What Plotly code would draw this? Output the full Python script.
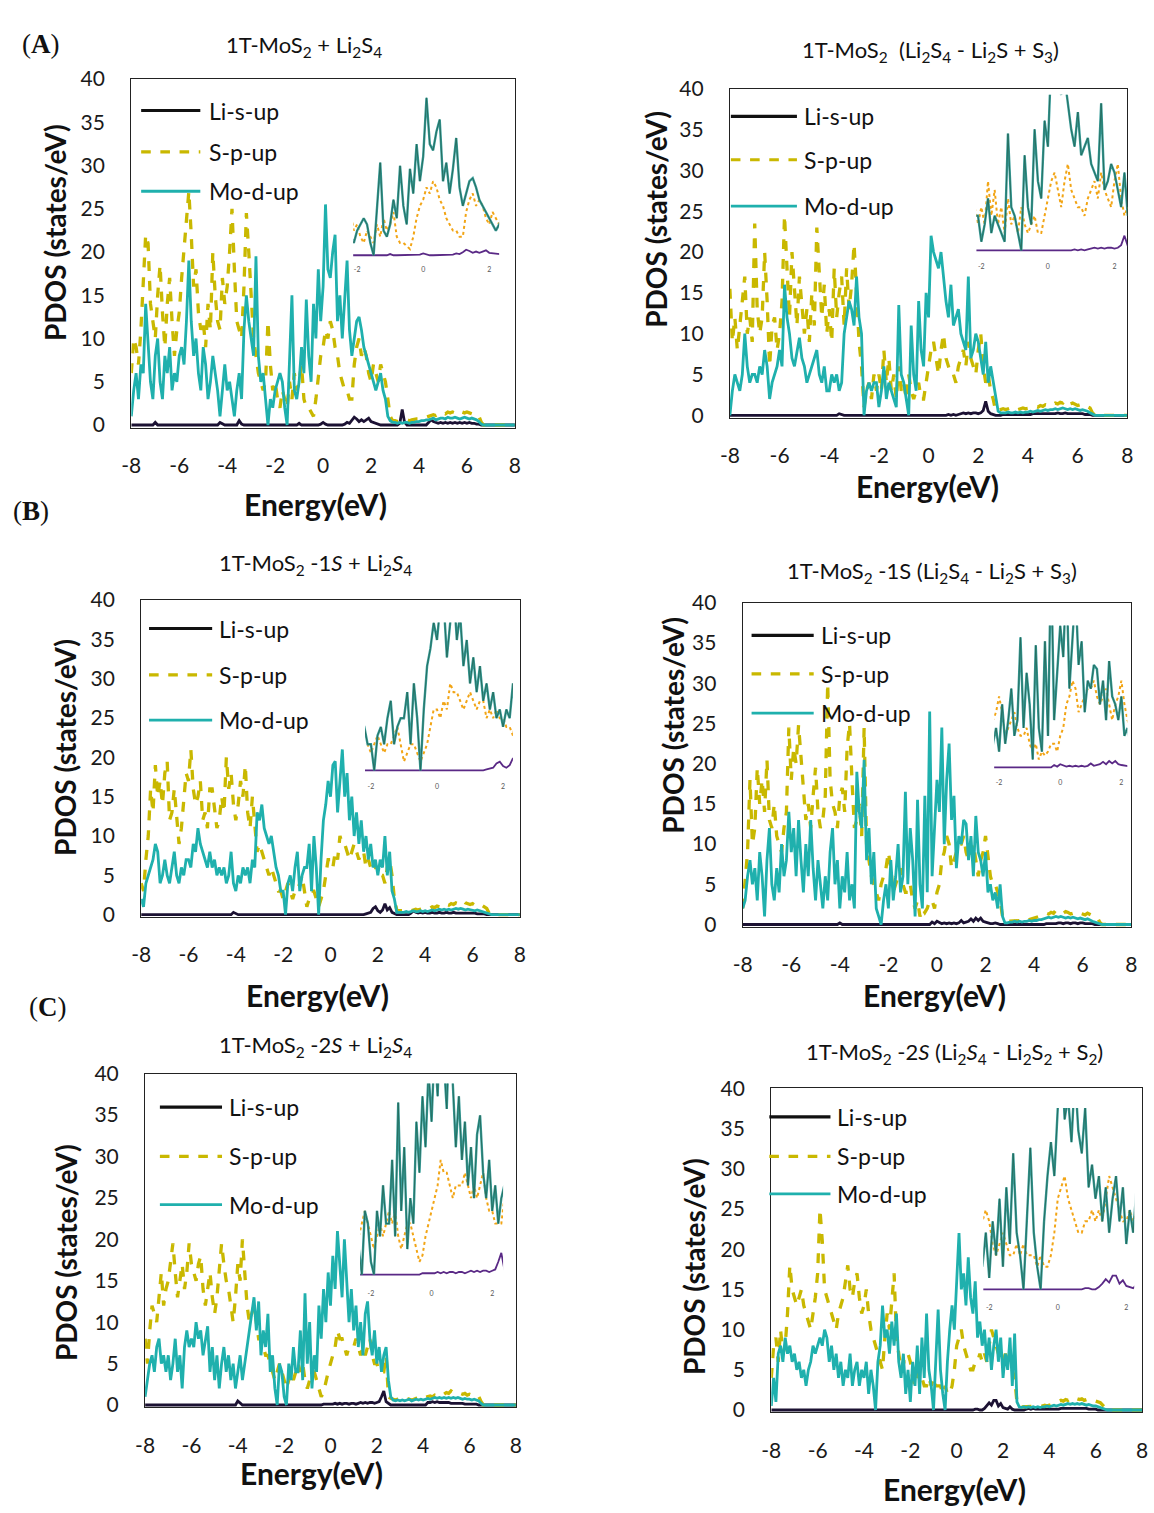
import plotly.graph_objects as go

W, H = 1154, 1513

# ---------------- data (PDOS, states/eV) on a 0.1 eV energy grid -8 .. 8 ----------------
energy = [round(-8 + 0.1 * i, 1) for i in range(161)]
x_ticks = [-8, -6, -4, -2, 0, 2, 4, 6, 8]
x_tick_labels = ["-8", "-6", "-4", "-2", "0", "2", "4", "6", "8"]
y_ticks = [0, 5, 10, 15, 20, 25, 30, 35, 40]
y_tick_labels = ["0", "5", "10", "15", "20", "25", "30", "35", "40"]
inset_ticks = [-2, 0, 2]
inset_tick_labels = ["-2", "0", "2"]
series_names = ["Li-s-up", "S-p-up", "Mo-d-up"]

# ---- (A) 1T-MoS2 + Li2S4 ----
a1_li = [
    0, 0, 0, 0, 0, 0, 0, 0, 0, 0,
    0.3, 0, 0, 0, 0, 0, 0, 0, 0, 0,
    0, 0, 0, 0, 0, 0, 0, 0, 0, 0,
    0, 0, 0, 0, 0, 0, 0, 0.3, 0.1, 0,
    0, 0, 0, 0, 0, 0.5, 0.1, 0, 0, 0,
    0, 0, 0, 0, 0, 0, 0, 0, 0, 0,
    0, 0, 0, 0, 0, 0, 0, 0, 0, 0,
    0.2, 0, 0, 0, 0, 0, 0, 0, 0, 0.1,
    0.3, 0.1, 0, 0, 0, 0, 0, 0, 0, 0.1,
    0.3, 0.2, 0.5, 0.9, 0.7, 0.4, 0.6, 0.4, 0.6, 0.8,
    0.4, 0.3, 0.2, 0.1, 0, 0, 0, 0, 0, 0,
    0, 0, 0.2, 1.8, 0.3, 0, 0, 0, 0, 0,
    0, 0, 0, 0, 0.3, 0.6, 0.4, 0.3, 0.2, 0.3,
    0.2, 0.3, 0.2, 0.3, 0.2, 0.3, 0.2, 0.3, 0.2, 0.3,
    0.2, 0.3, 0.2, 0.2, 0.1, 0.1, 0, 0, 0, 0,
    0, 0, 0, 0, 0, 0, 0, 0, 0, 0,
    0,
]
a1_sp = [
    6, 10, 9, 7, 11, 16, 22, 21, 14, 12,
    10, 15, 18.5, 13, 9, 14, 17, 12, 8, 11,
    13, 17, 20, 24, 27, 22, 16, 18, 13, 11,
    12, 9, 14, 11, 20, 15, 12, 11, 17, 14,
    16, 20, 25, 18, 12, 11, 10, 16, 24.5, 20,
    14, 10, 8, 6, 5, 4, 5, 12, 7, 4,
    5, 3, 2, 4, 3, 2, 5, 3, 6, 4,
    5, 7, 3, 2, 2, 1.5, 1, 3, 6, 8,
    9, 11, 10, 12, 11, 9, 8, 6, 5, 4,
    4, 3, 3, 7, 9, 10, 8, 9, 8, 6,
    5, 7, 6, 5, 7, 6, 5, 3, 1, 0.5,
    0.5, 0.4, 0.5, 0.5, 0.6, 0.6, 0.5, 0.6, 0.7, 0.7,
    0.7, 0.8, 0.8, 0.9, 1.0, 1.1, 1.2, 1.1, 1.3, 1.2,
    1.4, 1.3, 1.5, 1.4, 1.5, 1.4, 1.5, 1.3, 1.5, 1.4,
    1.5, 1.4, 1.3, 1.4, 1.2, 1.0, 0.3, 0, 0, 0,
    0, 0, 0, 0, 0, 0, 0, 0, 0, 0,
    0,
]
a1_mo = [
    1, 4, 6, 3, 7, 6, 14, 9, 5, 3,
    8, 10, 5, 3, 8, 6, 9, 4, 6, 5,
    8, 9, 7, 12, 19, 12, 8, 10, 6, 4,
    9, 7, 3, 5, 8, 6, 4, 1, 4, 7,
    4, 5, 3, 1, 4, 6, 3, 11, 15, 12,
    10, 8, 19.5, 8, 5, 6, 3, 0, 3, 2,
    4, 5, 6, 5, 2, 0, 8, 15, 4, 3,
    5, 9, 6, 14.5, 8, 5, 14, 10, 18, 12,
    16, 25.5, 18, 17, 20, 22, 12, 15, 10, 14,
    19, 11, 8, 10, 12, 12.5, 11, 9, 8, 7,
    6, 5, 4, 5, 6, 4, 3, 1, 0.5, 0.3,
    0.3, 0.2, 0.3, 0.2, 0.3, 0.3, 0.2, 0.3, 0.3, 0.4,
    0.4, 0.5, 0.5, 0.6, 0.6, 0.7, 0.8, 0.6, 0.7, 0.8,
    0.8, 0.7, 0.9, 0.8, 0.8, 0.9, 0.8, 0.7, 0.8, 0.9,
    0.8, 0.7, 0.8, 0.7, 0.6, 0.4, 0.1, 0, 0, 0,
    0, 0, 0, 0, 0, 0, 0, 0, 0, 0,
    0,
]

# ---- 1T-MoS2 (Li2S4 - Li2S + S3) ----
a2_li = [
    0, 0, 0, 0, 0, 0, 0, 0, 0, 0,
    0, 0, 0, 0, 0, 0, 0, 0, 0, 0,
    0, 0, 0, 0, 0, 0, 0, 0, 0, 0,
    0, 0, 0, 0, 0, 0, 0, 0, 0, 0,
    0, 0, 0, 0, 0.2, 0.1, 0, 0, 0, 0,
    0, 0, 0, 0, 0, 0, 0, 0, 0, 0,
    0, 0, 0, 0, 0, 0, 0, 0, 0, 0,
    0, 0, 0, 0, 0, 0, 0, 0, 0, 0,
    0, 0, 0, 0, 0, 0, 0, 0, 0.1, 0,
    0.1, 0, 0.1, 0.2, 0.3, 0.2, 0.3, 0.2, 0.3, 0.3,
    0.2, 0.3, 0.6, 1.7, 0.5, 0.2, 0.1, 0, 0, 0,
    0.1, 0.1, 0.1, 0.1, 0.1, 0.1, 0.1, 0.1, 0.1, 0.1,
    0.1, 0.1, 0.2, 0.2, 0.2, 0.2, 0.2, 0.2, 0.2, 0.2,
    0.2, 0.2, 0.3, 0.2, 0.2, 0.3, 0.2, 0.2, 0.2, 0.2,
    0.2, 0.2, 0.2, 0.1, 0.1, 0.1, 0, 0, 0, 0,
    0, 0, 0, 0, 0, 0, 0, 0, 0, 0,
    0,
]
a2_sp = [
    15.5, 9, 12, 8, 11, 14, 17, 10, 12, 9,
    23.5, 13, 10, 12, 20, 14, 6, 11, 12, 8,
    10, 14, 24.5, 18, 12, 20, 15, 11, 17, 14,
    10, 13, 9, 15, 11, 23, 18, 12, 16, 10,
    13, 9, 18, 12, 15, 17, 11, 18, 13, 16,
    21, 14, 9, 6, 1, 3, 4, 2, 5, 3,
    5, 3, 8, 4, 7, 3, 5, 2, 6, 3,
    4, 2, 5, 3, 2, 3, 4, 2, 2, 4,
    6, 8, 9, 7, 5, 8, 10, 7, 6, 5,
    5, 4, 6, 7, 8, 6, 9, 7, 6, 5,
    8, 10, 6, 4, 5, 3, 2, 0.5, 0.6, 0.7,
    0.8, 0.7, 0.8, 0.9, 0.7, 0.8, 0.7, 0.8, 0.9, 0.8,
    0.8, 0.9, 1.0, 1.1, 1.0, 1.2, 1.1, 1.3, 1.2, 1.4,
    1.3, 1.5, 1.4, 1.6, 1.5, 1.9, 1.6, 1.4, 1.5, 1.3,
    1.2, 1.3, 1.1, 1.2, 1.0, 0.9, 0.3, 0, 0, 0,
    0, 0, 0, 0, 0, 0, 0, 0, 0, 0,
    0,
]
a2_mo = [
    0, 3, 5, 4, 3, 5, 10, 6, 4, 5,
    5, 4, 6, 5, 8, 6, 2, 4, 5, 6,
    8, 6, 16, 12, 10, 7, 6, 8, 9.5, 7,
    6, 4, 5, 6, 7, 8, 5, 4, 6, 3,
    3, 5, 4, 5, 3, 4, 10, 12, 14, 13,
    11, 17, 12, 10, 0, 3, 4, 3, 4, 4,
    1, 3, 6, 2, 4, 3, 2, 1, 13.5, 5,
    4, 2, 0, 11, 5, 3, 14, 8, 6, 15,
    12, 22, 20, 19, 18, 20, 17, 14, 12, 16,
    11, 12, 13, 10, 9, 8, 17, 7, 8, 10,
    9, 7, 5, 9, 4, 6, 4, 2, 0.5, 0.3,
    0.3, 0.3, 0.4, 0.3, 0.3, 0.4, 0.3, 0.4, 0.3, 0.4,
    0.4, 0.5, 0.4, 0.5, 0.6, 0.5, 0.6, 0.7, 0.6, 0.7,
    0.7, 0.8, 0.7, 0.8, 0.9, 0.8, 0.7, 0.8, 0.7, 0.8,
    0.7, 0.6, 0.7, 0.6, 0.5, 0.3, 0.1, 0, 0, 0,
    0, 0, 0, 0, 0, 0, 0, 0, 0, 0,
    0,
]

# ---- (B) 1T-MoS2-1S + Li2S4 ----
b1_li = [
    0, 0, 0, 0, 0, 0, 0, 0, 0, 0,
    0, 0, 0, 0, 0, 0, 0, 0, 0, 0,
    0, 0, 0, 0, 0, 0, 0, 0, 0, 0,
    0, 0, 0, 0, 0, 0, 0, 0, 0, 0.3,
    0.1, 0, 0, 0, 0, 0, 0, 0, 0, 0,
    0, 0, 0, 0, 0, 0, 0, 0, 0, 0,
    0, 0, 0, 0, 0, 0, 0, 0, 0, 0,
    0, 0, 0, 0, 0, 0, 0, 0, 0, 0,
    0, 0, 0, 0, 0, 0, 0, 0, 0, 0,
    0, 0, 0, 0, 0, 0.1, 0.2, 0.3, 0.8, 1.0,
    0.5, 0.3, 0.6, 1.4, 0.6, 0.9, 0.3, 0.1, 0, 0,
    0, 0, 0, 0, 0.2, 0.5, 0.3, 0.2, 0.3, 0.2,
    0.3, 0.2, 0.2, 0.3, 0.2, 0.2, 0.3, 0.2, 0.2, 0.3,
    0.2, 0.2, 0.3, 0.2, 0.2, 0.2, 0.2, 0.2, 0.2, 0.2,
    0.2, 0.2, 0.1, 0.1, 0.1, 0.1, 0, 0, 0, 0,
    0, 0, 0, 0, 0, 0, 0, 0, 0, 0,
    0,
]
b1_sp = [
    4, 3, 7, 10, 16, 13, 19, 15, 17, 14,
    18, 19.5, 12, 13, 16, 12, 9, 11, 14, 18,
    17, 21, 16, 14, 15, 17, 12, 13, 11, 16,
    16, 13, 11, 12, 15, 13, 20, 16, 18, 14,
    12, 14, 17, 15, 19, 13, 11, 15, 12, 8,
    9, 8, 7, 6, 5, 6, 5, 4, 3, 3,
    2, 3, 4, 3, 2, 3, 3, 4, 5, 3,
    1, 2, 3, 3, 2, 1, 2, 3, 5, 7,
    7, 6, 8, 7, 10, 9, 9, 8, 7, 8,
    9, 8, 7, 8, 8, 6, 7, 6, 7, 6,
    6, 5, 5, 4, 6, 7, 5, 2, 0.6, 0.5,
    0.5, 0.4, 0.5, 0.6, 0.5, 0.6, 0.7, 0.6, 0.7, 0.8,
    0.8, 0.9, 0.8, 1.0, 0.9, 1.1, 1.0, 1.2, 1.1, 1.3,
    1.2, 1.4, 1.3, 1.5, 1.4, 1.6, 1.8, 1.5, 1.4, 1.3,
    1.4, 1.2, 1.3, 1.1, 1.2, 1.0, 0.8, 0.2, 0, 0,
    0, 0, 0, 0, 0, 0, 0, 0, 0, 0,
    0,
]
b1_mo = [
    2, 1, 4, 5, 6, 7, 9, 8, 4, 5,
    7, 5, 4, 6, 8, 5, 4, 6, 5, 7,
    7, 6, 9, 8, 11, 9, 8, 7, 6, 8,
    6, 7, 5, 6, 5, 6, 4, 5, 8, 4,
    3, 5, 4, 6, 5, 6, 4, 7, 6, 13,
    12, 14, 11, 10, 9, 10, 8, 6, 5, 3,
    3, 0, 4, 5, 3, 6, 8, 3, 5, 6,
    6, 9, 3, 10, 6, 0, 7, 12, 14, 17,
    15, 19, 19.5, 13, 17, 21, 15, 18, 12, 15,
    10, 13, 9, 12, 8, 10, 7, 9, 6, 7,
    5, 7, 6, 10, 5, 8, 3, 2, 0.3, 0.3,
    0.3, 0.3, 0.4, 0.3, 0.4, 0.5, 0.4, 0.4, 0.5, 0.4,
    0.5, 0.4, 0.5, 0.6, 0.5, 0.6, 0.7, 0.6, 0.7, 0.6,
    0.7, 0.6, 0.7, 0.8, 0.7, 0.8, 0.7, 0.6, 0.7, 0.6,
    0.6, 0.5, 0.6, 0.5, 0.4, 0.3, 0.2, 0.1, 0, 0,
    0, 0, 0, 0, 0, 0, 0, 0, 0, 0,
    0,
]

# ---- 1T-MoS2-1S (Li2S4 - Li2S + S3) ----
b2_li = [
    0, 0, 0, 0, 0, 0, 0, 0, 0, 0,
    0, 0, 0, 0, 0, 0, 0, 0, 0, 0,
    0, 0, 0, 0, 0, 0, 0, 0, 0, 0,
    0, 0, 0, 0, 0, 0, 0, 0, 0, 0,
    0.2, 0, 0, 0, 0, 0, 0, 0, 0, 0,
    0, 0, 0, 0, 0, 0, 0, 0, 0, 0,
    0, 0, 0, 0, 0, 0, 0, 0, 0, 0,
    0, 0, 0, 0, 0, 0, 0, 0, 0.3, 0.1,
    0.4, 0.2, 0.1, 0.2, 0.1, 0.2, 0.1, 0.2, 0.1, 0.2,
    0.5, 0.2, 0.3, 0.4, 0.7, 0.4, 0.8, 0.5, 0.8, 0.4,
    0.3, 0.2, 0.1, 0.1, 0.2, 0.1, 0, 0, 0, 0,
    0, 0, 0, 0, 0, 0, 0, 0, 0, 0,
    0, 0, 0, 0, 0, 0.1, 0.1, 0.1, 0.1, 0.1,
    0.2, 0.2, 0.1, 0.2, 0.2, 0.1, 0.2, 0.2, 0.1, 0.2,
    0.2, 0.1, 0.1, 0.1, 0.1, 0, 0, 0, 0, 0,
    0, 0, 0, 0, 0, 0, 0, 0, 0, 0,
    0,
]
b2_sp = [
    2, 5, 9, 18, 10, 12, 19.5, 15, 18, 14,
    20.5, 13, 12, 15, 11, 10, 9, 12, 14, 24.5,
    18, 22, 20, 24.8, 21, 17, 13, 15, 12, 16,
    19.5, 14, 12, 13, 16, 30, 18, 15, 14, 12,
    16, 17, 14, 22, 25, 18, 12, 13, 15, 11,
    24.5, 10, 8, 6, 5, 4, 3, 5, 6, 7,
    9, 7, 4, 5, 6, 7, 5, 4, 4, 5,
    3, 2, 3, 1, 2, 1.5, 2, 3, 3, 2,
    4, 5, 8, 9, 11, 10, 7, 8, 9, 10,
    10, 11, 9, 8, 9, 10, 8, 6, 8, 9,
    11, 8, 6, 5, 5, 4, 3, 1, 0.5, 0.4,
    0.4, 0.5, 0.4, 0.5, 0.4, 0.5, 0.6, 0.5, 0.6, 0.7,
    0.7, 0.8, 0.9, 1.0, 1.2, 1.4, 1.3, 1.5, 1.4, 1.8,
    1.6, 1.5, 1.4, 1.6, 1.5, 1.3, 1.4, 1.6, 1.5, 1.4,
    1.3, 1.2, 1.4, 1.2, 1.1, 1.0, 0.9, 0.3, 0, 0,
    0, 0, 0, 0, 0, 0, 0, 0, 0, 0,
    0,
]
b2_mo = [
    2, 3, 6, 8, 5, 7, 3, 9, 6, 1,
    8, 12, 5, 3, 7, 4, 10, 6, 8, 14,
    9, 12, 6, 13, 8, 4, 10, 6, 13, 7,
    3, 8, 5, 2, 6, 3, 9, 12, 5, 8,
    2, 6, 4, 9, 3, 5, 2, 19, 14, 12,
    20.5, 8, 12, 5, 9, 2, 1, 0, 3, 5,
    2, 8, 3, 6, 10, 4, 6, 16.5, 5, 12,
    8, 1, 15.5, 5, 2, 16, 4, 26.5, 6, 12,
    18, 14, 24.5, 10, 18, 22.5, 13, 16, 7, 11,
    10, 13, 12.5, 8, 11, 6, 13.5, 9, 8, 6,
    9, 4, 5, 3, 4, 2, 5, 1, 0.2, 0.2,
    0.3, 0.3, 0.4, 0.3, 0.4, 0.3, 0.4, 0.4, 0.5, 0.4,
    0.5, 0.5, 0.6, 0.6, 0.7, 0.8, 0.9, 0.8, 0.9, 1.0,
    0.9, 1.0, 0.9, 0.8, 0.9, 0.8, 0.9, 0.8, 0.7, 0.8,
    0.7, 0.6, 0.7, 0.5, 0.4, 0.3, 0.2, 0.1, 0, 0,
    0, 0, 0, 0, 0, 0, 0, 0, 0, 0,
    0,
]

# ---- (C) 1T-MoS2-2S + Li2S4 ----
c1_li = [
    0, 0, 0, 0, 0, 0, 0, 0, 0, 0,
    0, 0, 0, 0, 0, 0, 0, 0, 0, 0,
    0, 0, 0, 0, 0, 0, 0, 0, 0, 0,
    0, 0, 0, 0, 0, 0, 0, 0, 0, 0,
    0.5, 0.2, 0, 0, 0, 0, 0, 0, 0, 0,
    0, 0, 0, 0, 0, 0, 0, 0, 0, 0,
    0, 0, 0, 0, 0, 0, 0, 0, 0, 0,
    0, 0, 0, 0, 0, 0, 0, 0.1, 0.1, 0.1,
    0.1, 0.1, 0.2, 0.1, 0.2, 0.1, 0.2, 0.2, 0.1, 0.2,
    0.2, 0.1, 0.2, 0.3, 0.2, 0.3, 0.2, 0.3, 0.3, 0.2,
    0.3, 0.4, 1.0, 1.7, 0.4, 0.2, 0, 0, 0, 0,
    0, 0, 0, 0, 0, 0, 0, 0, 0, 0,
    0, 0, 0.3, 0.3, 0.4, 0.3, 0.4, 0.3, 0.3, 0.3,
    0.3, 0.3, 0.2, 0.2, 0.2, 0.2, 0.2, 0.2, 0.1, 0.1,
    0.1, 0.1, 0.1, 0.1, 0, 0, 0, 0, 0, 0,
    0, 0, 0, 0, 0, 0, 0, 0, 0, 0,
    0,
]
c1_sp = [
    8, 5, 9, 12, 11, 10, 13, 16, 12, 14,
    15, 17, 19.5, 16, 13, 15, 17, 14, 16, 19.5,
    17, 16, 15, 17, 18, 14, 12, 14, 16, 13,
    11, 13, 16, 19.5, 17, 15, 14, 12, 10, 13,
    17, 15, 20, 16, 12, 10, 11, 12, 10, 8,
    8, 7, 6, 6, 5, 4, 3, 4, 5, 4,
    3, 2, 3, 4, 3, 4, 5, 4, 5, 3,
    2, 3, 4, 4, 3, 2, 1, 1.5, 3, 4,
    5, 6, 7, 9, 8, 8, 7, 6, 7, 7,
    7, 8, 7, 6, 7, 6, 7, 8, 6, 5,
    5, 4, 4, 4, 6, 1, 0.8, 0.7, 0.6, 0.7,
    0.7, 0.6, 0.7, 0.8, 0.7, 0.6, 0.7, 0.8, 0.7, 0.8,
    0.8, 0.9, 1.0, 1.1, 1.0, 1.2, 1.1, 1.3, 1.4, 1.3,
    1.5, 1.4, 1.7, 1.5, 1.4, 1.5, 1.4, 1.3, 1.4, 1.2,
    1.3, 1.2, 1.1, 1.2, 1.0, 0.4, 0, 0, 0, 0,
    0, 0, 0, 0, 0, 0, 0, 0, 0, 0,
    0,
]
c1_mo = [
    1, 3, 5, 6, 4, 7, 8, 5, 6, 4,
    6, 3, 5, 8, 4, 6, 2, 7, 9, 7,
    8, 7, 10, 8, 9, 6, 8, 9.5, 4, 7,
    3, 6, 2, 5, 7, 4, 6, 3, 5, 2,
    4, 6, 3, 5, 7, 9, 11, 13, 9, 12.5,
    6, 9, 7, 11, 4, 6, 2, 0, 5, 4,
    1, 0, 5, 3, 7, 4, 4, 9, 3, 13.5,
    5, 10, 2, 6, 4, 12, 8, 14, 10, 16,
    12, 18, 14, 21, 17, 13, 20, 15, 10, 14,
    9, 12, 7, 10, 6, 11, 12.5, 8, 6, 9,
    5, 7, 4, 6, 7, 3, 1, 0.6, 0.5, 0.6,
    0.5, 0.6, 0.5, 0.6, 0.7, 0.5, 0.6, 0.7, 0.6, 0.7,
    0.6, 0.7, 0.8, 0.7, 0.8, 0.9, 0.8, 0.9, 0.8, 0.9,
    0.8, 0.9, 0.8, 0.9, 0.8, 0.9, 0.8, 0.7, 0.8, 0.7,
    0.7, 0.6, 0.7, 0.6, 0.5, 0.2, 0, 0, 0, 0,
    0, 0, 0, 0, 0, 0, 0, 0, 0, 0,
    0,
]

# ---- 1T-MoS2-2S (Li2S4 - Li2S2 + S2) ----
c2_li = [
    0, 0, 0, 0, 0, 0, 0, 0, 0, 0,
    0, 0, 0, 0, 0, 0, 0, 0, 0, 0,
    0, 0, 0, 0, 0, 0, 0, 0, 0, 0,
    0, 0, 0, 0, 0, 0, 0, 0, 0, 0,
    0, 0, 0, 0, 0, 0, 0, 0, 0, 0,
    0, 0, 0, 0, 0, 0, 0, 0, 0, 0,
    0, 0, 0, 0, 0, 0, 0, 0, 0, 0,
    0, 0, 0, 0, 0, 0, 0, 0, 0, 0,
    0, 0, 0, 0, 0, 0, 0, 0, 0.1, 0.1,
    0, 0, 0.2, 0.5, 0.9, 0.6, 1.2, 1.2, 0.5, 0.8,
    0.3, 0.2, 0.1, 0.4, 0.1, 0, 0, 0, 0, 0,
    0.1, 0.2, 0.1, 0.2, 0.1, 0.1, 0.1, 0.1, 0.1, 0.1,
    0.1, 0.1, 0.1, 0.1, 0.1, 0.2, 0.2, 0.2, 0.2, 0.2,
    0.2, 0.2, 0.2, 0.2, 0.2, 0.2, 0.2, 0.1, 0.1, 0.1,
    0.1, 0, 0, 0, 0, 0, 0, 0, 0, 0,
    0, 0, 0, 0, 0, 0, 0, 0, 0, 0,
    0,
]
c2_sp = [
    4, 8, 9, 6, 10, 7, 8, 12, 18, 15,
    14, 13, 14, 15, 13, 12, 11, 10, 12, 14,
    17, 25, 21, 15, 14, 13, 12, 11, 10, 12,
    13, 14, 16, 18, 15, 14, 16, 17, 14, 12,
    13, 15, 12, 10, 9, 8, 7, 6, 5, 9,
    12, 10, 14, 17, 9, 7, 5, 6, 6, 7,
    6, 4, 3, 4, 5, 4, 3, 3, 4, 3,
    4, 3, 3, 3, 2, 3, 2, 2, 3, 5,
    8, 9, 10, 8, 7, 6, 5, 5, 6, 6,
    7, 6, 7, 6, 8, 10, 9, 8, 7, 6,
    6, 7, 6, 7, 5, 4, 1, 0.5, 0.4, 0.4,
    0.4, 0.5, 0.4, 0.5, 0.4, 0.5, 0.4, 0.5, 0.6, 0.5,
    0.6, 0.7, 0.9, 1.0, 1.1, 1.2, 1.1, 1.3, 1.2, 1.4,
    1.3, 1.5, 1.4, 1.3, 1.4, 1.2, 1.3, 1.2, 1.1, 1.2,
    1.1, 1.0, 0.9, 0.6, 0.3, 0, 0, 0, 0, 0,
    0, 0, 0, 0, 0, 0, 0, 0, 0, 0,
    0,
]
c2_mo = [
    0.5, 4, 1, 7, 8, 6, 9, 7, 8, 6,
    7, 5, 6, 4, 5, 3, 5, 6, 8, 7,
    8, 9, 8, 10, 9, 6, 8, 5, 7, 4,
    6, 3, 5, 4, 7, 3, 5, 6, 3, 5,
    4, 6, 2, 5, 3, 0, 6, 8, 13, 9,
    10, 7, 11, 8, 12, 6, 4, 7, 2, 5,
    1, 6, 3, 8, 2, 9, 4, 12, 5, 3,
    0, 7, 12.5, 5, 2, 0, 6, 10, 13, 10,
    16, 22, 15, 17, 13, 19, 14, 12, 16, 9,
    11, 8, 10, 6, 9, 5, 8, 10, 6, 9,
    4, 7, 5, 9, 3, 9.5, 1, 0.4, 0.3, 0.4,
    0.3, 0.4, 0.3, 0.4, 0.3, 0.4, 0.3, 0.4, 0.4, 0.5,
    0.4, 0.5, 0.6, 0.5, 0.6, 0.7, 0.6, 0.7, 0.8, 0.7,
    0.8, 0.7, 0.8, 0.7, 0.8, 0.7, 0.6, 0.7, 0.6, 0.5,
    0.5, 0.4, 0.3, 0.2, 0.1, 0, 0, 0, 0, 0,
    0, 0, 0, 0, 0, 0, 0, 0, 0, 0,
    0,
]

for arr in [a1_li, a1_sp, a1_mo, a2_li, a2_sp, a2_mo, b1_li, b1_sp, b1_mo,
            b2_li, b2_sp, b2_mo, c1_li, c1_sp, c1_mo, c2_li, c2_sp, c2_mo]:
    assert len(arr) == len(energy), len(arr)

# ---------------- layout description (pixels of the 1154 x 1513 page) ----------------
S2 = "<sub>2</sub>"
S3 = "<sub>3</sub>"
S4 = "<sub>4</sub>"
panels = [
    dict(data=(a1_li, a1_sp, a1_mo), frame=(123, 512, 66, 420),
         title="1T-MoS" + S2 + " + Li" + S2 + "S" + S4, title_xy=(298, 32),
         ytitle_xy=(45, 222), xtitle_xy=(310, 498),
         legend=(133, 193, 200, (98, 140, 180)),
         inset=(348, 496, 82, 245, 352, 486, 26)),
    dict(data=(a2_li, a2_sp, a2_mo), frame=(730, 1133, 76, 410),
         title="1T-MoS" + S2 + "  (Li" + S2 + "S" + S4 + " - Li" + S2 + "S + S" + S3 + ")",
         title_xy=(933, 38), ytitle_xy=(655, 208), xtitle_xy=(930, 479),
         legend=(731, 798, 803, (104, 148, 195)),
         inset=(980, 1133, 82, 240, 985, 1120, 18)),
    dict(data=(b1_li, b1_sp, b1_mo), frame=(133, 517, 595, 917),
         title="1T-MoS" + S2 + " -1<i>S</i> + Li" + S2 + "<i>S</i>" + S4, title_xy=(310, 558),
         ytitle_xy=(55, 745), xtitle_xy=(312, 996),
         legend=(141, 205, 210, (624, 671, 717)),
         inset=(360, 510, 618, 768, 366, 500, 17)),
    dict(data=(b2_li, b2_sp, b2_mo), frame=(743, 1137, 598, 927),
         title="1T-MoS" + S2 + " -1S (Li" + S2 + "S" + S4 + " - Li" + S2 + "S + S" + S3 + ")",
         title_xy=(935, 567), ytitle_xy=(672, 722), xtitle_xy=(938, 996),
         legend=(752, 815, 820, (631, 670, 710)),
         inset=(998, 1133, 621, 765, 1003, 1127, 18)),
    dict(data=(c1_li, c1_sp, c1_mo), frame=(137, 513, 1076, 1415),
         title="1T-MoS" + S2 + " -2<i>S</i> + Li" + S2 + "<i>S</i>" + S4, title_xy=(310, 1048),
         ytitle_xy=(57, 1258), xtitle_xy=(306, 1482),
         legend=(152, 215, 220, (1110, 1160, 1209)),
         inset=(355, 500, 1086, 1280, 366, 489, 15)),
    dict(data=(c2_li, c2_sp, c2_mo), frame=(772, 1148, 1091, 1420),
         title="1T-MoS" + S2 + " -2<i>S</i> (Li" + S2 + "<i>S</i>" + S4 + " - Li" + S2 + "S" + S2 + " + S" + S2 + ")",
         title_xy=(958, 1055), ytitle_xy=(693, 1272), xtitle_xy=(958, 1498),
         legend=(770, 832, 837, (1120, 1160, 1198)),
         inset=(987, 1140, 1111, 1295, 993, 1132, 16)),
]
panel_letters = [("A", 31, 30), ("B", 21, 505), ("C", 39, 1008)]

main_colors = {"li": "#1c1233", "sp": "#c9b800", "mo": "#1fb0ad"}
inset_colors = {"li": "#5b2a86", "sp": "#f2a516", "mo": "#3a9e9b", "mo_dark": "#1f5e4c"}

SANS = "Lato, Open Sans, sans-serif"
SERIF = "Liberation Serif, DejaVu Serif, serif"
TICK_FONT = dict(family=SANS, size=21, color="#1a1a1a")


def fx(p):
    return p / W


def fy(p):
    return 1 - p / H


fig = go.Figure()
layout = dict(width=W, height=H, margin=dict(l=0, r=0, t=0, b=0),
              paper_bgcolor="white", plot_bgcolor="rgba(0,0,0,0)", showlegend=False)
annotations = []
shapes = []

for k, p in enumerate(panels):
    li, sp, mo = p["data"]
    ia = k + 1          # main axis index
    ib = k + 7          # inset axis index
    xa = "x" if ia == 1 else f"x{ia}"
    ya = "y" if ia == 1 else f"y{ia}"
    l, r, t, b = p["frame"]
    layout["xaxis" if ia == 1 else f"xaxis{ia}"] = dict(
        domain=[fx(l), fx(r)], range=[-8, 8], anchor=ya,
        tickvals=x_ticks, ticktext=x_tick_labels, tickfont=TICK_FONT,
        ticks="outside", ticklen=19, tickcolor="rgba(0,0,0,0)",
        showline=True, mirror=True, linecolor="#222", linewidth=1.2,
        showgrid=False, zeroline=False)
    layout["yaxis" if ia == 1 else f"yaxis{ia}"] = dict(
        domain=[fy(b), fy(t)], range=[-0.3, 40], anchor=xa,
        tickvals=y_ticks, ticktext=y_tick_labels, tickfont=TICK_FONT,
        ticks="outside", ticklen=21, tickcolor="rgba(0,0,0,0)",
        showline=True, mirror=True, linecolor="#222", linewidth=1.2,
        showgrid=False, zeroline=False)

    fig.add_trace(go.Scatter(x=energy, y=li, mode="lines", name=series_names[0],
                             line=dict(color=main_colors["li"], width=2.8), xaxis=xa, yaxis=ya))
    fig.add_trace(go.Scatter(x=energy, y=sp, mode="lines", name=series_names[1],
                             line=dict(color=main_colors["sp"], width=3.3, dash="dash"), xaxis=xa, yaxis=ya))
    fig.add_trace(go.Scatter(x=energy, y=mo, mode="lines", name=series_names[2],
                             line=dict(color=main_colors["mo"], width=2.8), xaxis=xa, yaxis=ya))

    # inset (zoom of the -2 .. 2 eV region)
    il, ir, it, ibase, tm2, tp2, ymax = p["inset"]
    sc = (tp2 - tm2) / 4.0
    xr = [-2 - (tm2 - il) / sc, 2 + (ir - tp2) / sc]
    pad = 0.7
    ibot = ibase + pad * (ibase - it) / ymax
    xb = f"x{ib}"
    yb = f"y{ib}"
    layout[f"xaxis{ib}"] = dict(
        domain=[fx(il), fx(ir)], range=xr, anchor=yb,
        tickvals=inset_ticks, ticktext=inset_tick_labels,
        tickfont=dict(family=SANS, size=7, color="#555"),
        ticks="outside", ticklen=3, tickcolor="rgba(0,0,0,0)",
        showline=False, showgrid=False, zeroline=False)
    layout[f"yaxis{ib}"] = dict(domain=[fy(ibot), fy(it)], range=[-pad, ymax], anchor=xb,
                                visible=False, showgrid=False, zeroline=False)
    fig.add_trace(go.Scatter(x=energy, y=li, mode="lines", name=series_names[0],
                             line=dict(color=inset_colors["li"], width=1.8), xaxis=xb, yaxis=yb))
    fig.add_trace(go.Scatter(x=energy, y=sp, mode="lines", name=series_names[1],
                             line=dict(color=inset_colors["sp"], width=2, dash="dot"), xaxis=xb, yaxis=yb))
    fig.add_trace(go.Scatter(x=energy, y=mo, mode="lines", name=series_names[2],
                             line=dict(color=inset_colors["mo"], width=2.4), xaxis=xb, yaxis=yb))
    fig.add_trace(go.Scatter(x=energy, y=mo, mode="lines", name=series_names[2],
                             line=dict(color=inset_colors["mo_dark"], width=0.9), opacity=0.8,
                             xaxis=xb, yaxis=yb))

    # panel title
    tx, ty = p["title_xy"]
    annotations.append(dict(text=p["title"], x=fx(tx), y=fy(ty), xref="paper", yref="paper",
                            showarrow=False, xanchor="center", yanchor="middle",
                            font=dict(family=SANS, size=22, color="#111")))
    yx, yy = p["ytitle_xy"]
    annotations.append(dict(text="<b>PDOS (states/eV)</b>", x=fx(yx), y=fy(yy), xref="paper", yref="paper",
                            showarrow=False, xanchor="center", yanchor="middle", textangle=-90,
                            font=dict(family=SANS, size=28, color="#111")))
    ex, ey = p["xtitle_xy"]
    annotations.append(dict(text="<b>Energy(eV)</b>", x=fx(ex), y=fy(ey), xref="paper", yref="paper",
                            showarrow=False, xanchor="center", yanchor="middle",
                            font=dict(family=SANS, size=30, color="#111")))

    # legend drawn inside the plot
    lx0, lx1, ltx, lys = p["legend"]
    styles = [dict(color="#111", width=3.2), dict(color=main_colors["sp"], width=3.2, dash="dash"),
              dict(color=main_colors["mo"], width=2.8)]
    for name, st, ly in zip(series_names, styles, lys):
        shapes.append(dict(type="line", xref="paper", yref="paper", x0=fx(lx0), x1=fx(lx1),
                           y0=fy(ly), y1=fy(ly), line=st))
        annotations.append(dict(text=name, x=fx(ltx), y=fy(ly), xref="paper", yref="paper",
                                showarrow=False, xanchor="left", yanchor="middle",
                                font=dict(family=SANS, size=23, color="#111")))

for letter, lx, ly in panel_letters:
    annotations.append(dict(text="(<b>" + letter + "</b>)", x=fx(lx), y=fy(ly), xref="paper", yref="paper",
                            showarrow=False, xanchor="center", yanchor="middle",
                            font=dict(family=SERIF, size=27, color="#111")))

layout["annotations"] = annotations
layout["shapes"] = shapes
fig.update_layout(**layout)
# remove the browser's default 8px body margin so page pixels match figure pixels
fig.write_html("out.html", post_script="document.body.style.margin='0px';")
